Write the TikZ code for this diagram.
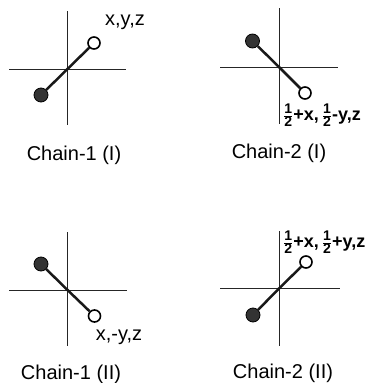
\documentclass[tikz,border=0pt]{standalone}
\usepackage{fontspec}
\setmainfont{Liberation Sans}
\newcommand{\hf}{$\frac{\hbox{\fontsize{14}{14}\selectfont 1}}{\hbox{\fontsize{14}{14}\selectfont 2}}$}
\tikzset{
  axis/.style={line width=0.9pt,black!85},
  bond/.style={line width=2.5pt,black!90},
  openatom/.style={circle,draw=black,line width=1.6pt,fill=white,minimum size=12pt,inner sep=0pt},
  fullatom/.style={circle,draw=black,line width=0.8pt,fill=black!80,minimum size=14pt,inner sep=0pt},
  caption/.style={font=\fontsize{20}{20}\selectfont,inner sep=0pt},
  poslabel/.style={font=\fontsize{20}{20}\selectfont,inner sep=0pt},
  fraclabel/.style={font=\fontsize{18}{18}\selectfont\bfseries,inner sep=0pt}
}
\begin{document}
\begin{tikzpicture}[x=1pt,y=-1pt]
\useasboundingbox (0,0) rectangle (365,383);
% Chain-1 (I)
\coordinate (o1) at (67.5,69);
\coordinate (t1) at (67.5,11); \coordinate (b1) at (67.5,125);
\coordinate (l1) at (9,69); \coordinate (r1) at (126,69);
\draw[axis] (t1) -- (b1); \draw[axis] (l1) -- (r1);
\node[openatom] (a1) at (94,43) {};
\node[fullatom] (f1) at (41,95) {};
\draw[bond] (f1) -- (o1); \draw[bond] (o1) -- (a1);
\node[poslabel] (p1) at (125,22) {x,y,z};
\node[caption] (c1) at (74,155) {Chain-1 (I)};
% Chain-2 (I)
\coordinate (o2) at (279,67);
\coordinate (t2) at (279,8); \coordinate (b2) at (279,124);
\coordinate (l2) at (220,67); \coordinate (r2) at (338,67);
\draw[axis] (t2) -- (b2); \draw[axis] (l2) -- (r2);
\node[openatom] (a2) at (305,93) {};
\node[fullatom] (f2) at (252.5,41) {};
\draw[bond] (f2) -- (o2); \draw[bond] (o2) -- (a2);
\node[fraclabel,anchor=west] (p2) at (283,115) {\hf+x,\,\hf-y,z};
\node[caption] (c2) at (279,153) {Chain-2 (I)};
% Chain-1 (II)
\coordinate (o3) at (67.5,290);
\coordinate (t3) at (67.5,232); \coordinate (b3) at (67.5,346);
\coordinate (l3) at (9,290); \coordinate (r3) at (127,290);
\draw[axis] (t3) -- (b3); \draw[axis] (l3) -- (r3);
\node[openatom] (a3) at (94.5,316) {};
\node[fullatom] (f3) at (41,264) {};
\draw[bond] (f3) -- (o3); \draw[bond] (o3) -- (a3);
\node[poslabel] (p3) at (119,337) {x,-y,z};
\node[caption] (c3) at (71,374) {Chain-1 (II)};
% Chain-2 (II)
\coordinate (o4) at (279,288.5);
\coordinate (t4) at (279,231); \coordinate (b4) at (279,346);
\coordinate (l4) at (220,288.5); \coordinate (r4) at (340,288.5);
\draw[axis] (t4) -- (b4); \draw[axis] (l4) -- (r4);
\node[openatom] (a4) at (306,262) {};
\node[fullatom] (f4) at (253,315) {};
\draw[bond] (f4) -- (o4); \draw[bond] (o4) -- (a4);
\node[fraclabel,anchor=west] (p4) at (283,242) {\hf+x,\,\hf+y,z};
\node[caption] (c4) at (283,373) {Chain-2 (II)};
\end{tikzpicture}
\end{document}
